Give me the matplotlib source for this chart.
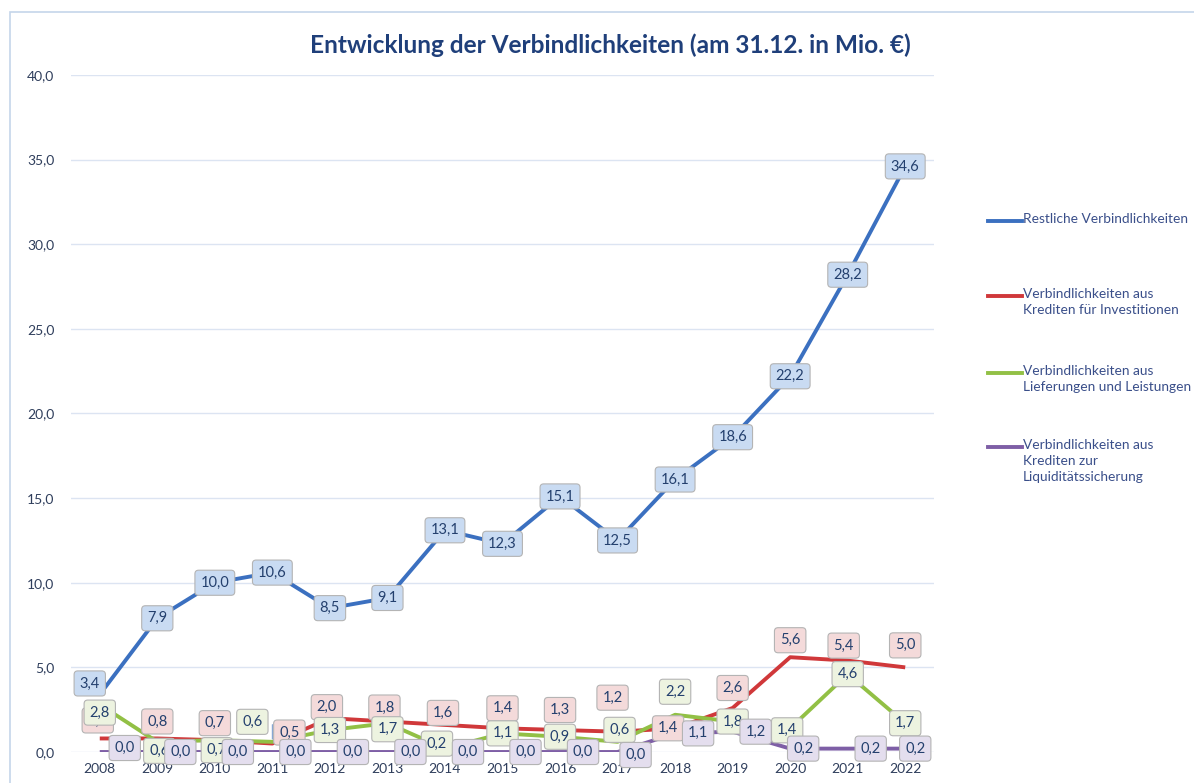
import matplotlib
matplotlib.use("Agg")
import matplotlib.pyplot as plt
from matplotlib.lines import Line2D
from matplotlib.patches import Rectangle

plt.rcParams['font.family'] = ['Lato', 'DejaVu Sans']

# data (Mio. EUR, Stand 31.12.)
years = [2008, 2009, 2010, 2011, 2012, 2013, 2014, 2015, 2016, 2017, 2018, 2019, 2020, 2021, 2022]
restliche = [3.4, 7.9, 10.0, 10.6, 8.5, 9.1, 13.1, 12.3, 15.1, 12.5, 16.1, 18.6, 22.2, 28.2, 34.6]
kredite_inv = [0.8, 0.8, 0.7, 0.5, 2.0, 1.8, 1.6, 1.4, 1.3, 1.2, 1.4, 2.6, 5.6, 5.4, 5.0]
lieferungen = [2.8, 0.6, 0.7, 0.6, 1.3, 1.7, 0.2, 1.1, 0.9, 0.6, 2.2, 1.8, 1.4, 4.6, 1.7]
liquiditaet = [0.0, 0.0, 0.0, 0.0, 0.0, 0.0, 0.0, 0.0, 0.0, 0.0, 1.1, 1.2, 0.2, 0.2, 0.2]

series_labels = ["Restliche Verbindlichkeiten",
                 "Verbindlichkeiten aus\nKrediten für Investitionen",
                 "Verbindlichkeiten aus\nLieferungen und Leistungen",
                 "Verbindlichkeiten aus\nKrediten zur\nLiquiditätssicherung"]

# styles
line_cols = ["#3B70C0", "#D0383A", "#92C045", "#7E5FA6"]
box_cols = ["#C9DBF2", "#F4DADA", "#EDF3E0", "#E4DEEE"]
text_col = "#24406E"

# label offsets in pixels (dx, dy) per series, with a few manual tweaks
default_off = [(0, 0), (0, 17), (0, 0), (23, 0)]
tweak = {
    (0, 0): (-10, 11),
    (1, 0): (-2, 18), (1, 3): (17, 11), (1, 4): (-3, 11), (1, 5): (-3, 14), (1, 6): (-2, 12),
    (1, 7): (0, 20), (1, 8): (0, 20), (1, 9): (-5, 34), (1, 10): (-7, 0), (1, 11): (0, 20),
    (1, 13): (-4, 15), (1, 14): (0, 22),
    (2, 0): (0, -8), (2, 1): (2, -9), (2, 2): (2, -10), (2, 3): (-20, 20), (2, 5): (0, -6),
    (2, 6): (-8, 5), (2, 9): (2, 12), (2, 10): (0, 23), (2, 12): (-3, -2),
    (3, 0): (25, 4), (3, 9): (18, -3), (3, 12): (13, 0), (3, 14): (10, 0),
}

fig = plt.figure(figsize=(11.94, 7.83), dpi=100)
fig.add_artist(Rectangle((10 / 1194, -0.01), 1.2, 1 - 12 / 783 + 0.01, transform=fig.transFigure,
                         fill=False, edgecolor="#C5D5EA", linewidth=1.2))

ax = fig.add_axes([71 / 1194, 31 / 783, (934 - 71) / 1194, (752 - 75) / 783])
x = list(range(len(years)))
all_series = [restliche, kredite_inv, lieferungen, liquiditaet]

line_z = [6, 4, 4.5, 3]
label_z = [12, 9, 10, 11]
for s, vals in enumerate(all_series):
    ax.plot(x, vals, color=line_cols[s], linewidth=2.8, solid_capstyle="butt", zorder=line_z[s])
    for i, v in enumerate(vals):
        dx, dy = tweak.get((s, i), default_off[s])
        ax.annotate(f"{v:.1f}".replace(".", ","), (x[i], v), xytext=(dx, dy),
                    textcoords="offset pixels", ha="center", va="center",
                    fontsize=10.5, color=text_col, zorder=label_z[s], annotation_clip=False,
                    bbox=dict(boxstyle="round,pad=0.38,rounding_size=0.25", fc=box_cols[s],
                              ec="#B4B4B4", lw=0.8))

# leader line for the shifted label 2011 (green)
ax.annotate("", (3, lieferungen[3]), xytext=(0, 20), textcoords="offset pixels",
            arrowprops=dict(arrowstyle="-", color="#7FA0D0", lw=0.8), zorder=9)

ax.set_xlim(-0.5, len(years) - 0.5)
ax.set_ylim(0, 40)
ax.set_yticks(range(0, 41, 5))
ax.set_yticklabels([f"{t:.1f}".replace(".", ",") for t in range(0, 41, 5)])
ax.set_xticks(x)
ax.set_xticklabels([str(y) for y in years])
ax.tick_params(axis="both", length=0, labelsize=10, labelcolor="#2F3E5C")
ax.tick_params(axis="y", pad=12)
ax.tick_params(axis="x", pad=8)
ax.grid(axis="y", color="#DCE4F2", linewidth=1.0)
ax.set_axisbelow(True)
for sp in ax.spines.values():
    sp.set_visible(False)

fig.text(0.511, 1 - 45 / 783, "Entwicklung der Verbindlichkeiten (am 31.12. in Mio. €)",
         ha="center", va="center", fontsize=17.6, fontweight="bold", color="#1F3F7A")

# legend drawn at the right
leg_y = [221, 296, 373, 447]
for s, lab in enumerate(series_labels):
    yy = 1 - leg_y[s] / 783
    fig.add_artist(Line2D([988 / 1194, 1022 / 1194], [yy, yy], transform=fig.transFigure,
                          color=line_cols[s], linewidth=2.8))
    fig.text(1023 / 1194, yy + 8 / 783, lab, ha="left", va="top", fontsize=9.9,
             color="#3A4F8A", linespacing=1.4)

fig.savefig("out.png", dpi=100, facecolor="white")
